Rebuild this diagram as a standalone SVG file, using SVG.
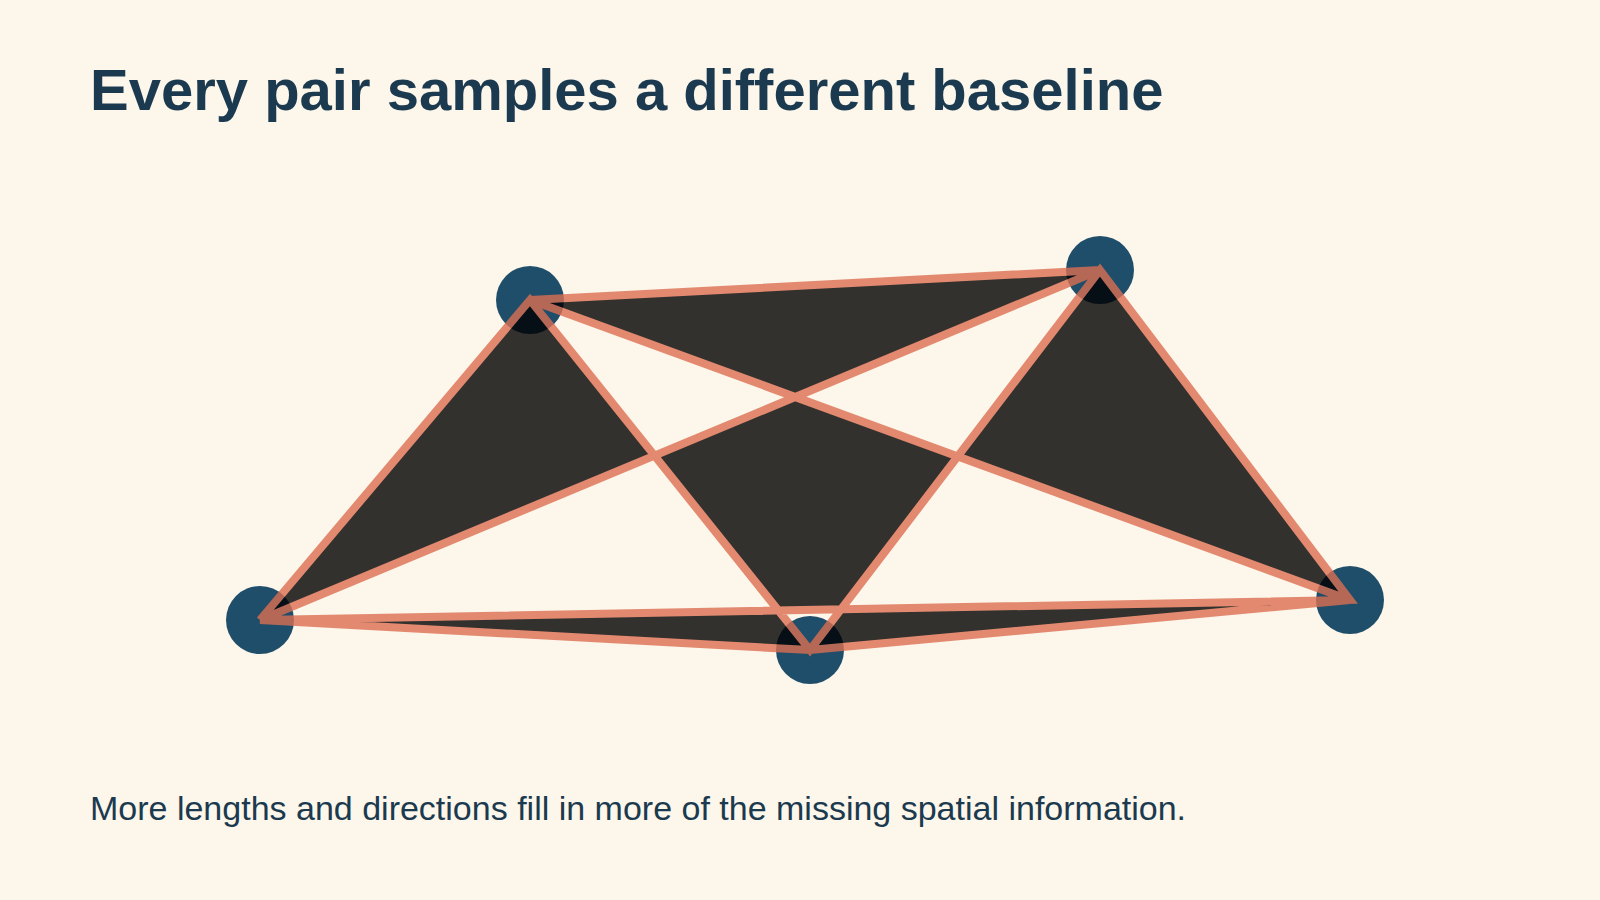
<svg xmlns="http://www.w3.org/2000/svg" width="1600" height="900" viewBox="0 0 1600 900">
  <style>
    .title { font-family: "Liberation Sans", Arial, sans-serif; font-weight: bold; font-size: 58px; fill: #1b3a4f; }
    .caption { font-family: "Liberation Sans", Arial, sans-serif; font-size: 34px; fill: #1b3a4f; }
    .node { fill: #1f4e6b; }
    .edges { fill: #000000; fill-rule: evenodd; stroke: #dc6f52; stroke-width: 8; opacity: 0.8; }
  </style>
  <rect x="0" y="0" width="1600" height="900" fill="#fdf6ea"/>
  <text class="title" x="90" y="110">Every pair samples a different baseline</text>
  <g id="nodes">
    <g id="node-c"><circle class="node" cx="260" cy="620" r="34"/></g>
    <g id="node-a"><circle class="node" cx="530" cy="300" r="34"/></g>
    <g id="node-d"><circle class="node" cx="810" cy="650" r="34"/></g>
    <g id="node-b"><circle class="node" cx="1100" cy="270" r="34"/></g>
    <g id="node-e"><circle class="node" cx="1350" cy="600" r="34"/></g>
  </g>
  <g id="connectors">
    <path class="edges" d="M260,620 L530,300 L810,650 L1100,270 L1350,600 L260,620 L810,650 L1350,600 L530,300 L1100,270 L260,620"/>
  </g>
  <text class="caption" x="90" y="820">More lengths and directions fill in more of the missing spatial information.</text>
</svg>
